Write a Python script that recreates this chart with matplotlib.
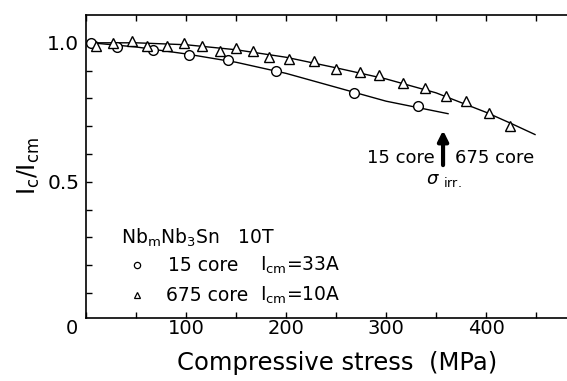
import matplotlib
matplotlib.use('Agg')
import matplotlib.pyplot as plt
import numpy as np

plt.rcParams['font.family'] = ['DejaVu Sans']

# 15 core data (circles)
core15_x = [5, 31, 67, 103, 142, 190, 268, 332]
core15_y = [1.0, 0.984, 0.973, 0.955, 0.937, 0.897, 0.821, 0.771]
# fitted line
core15_fit_x = [5, 50, 100, 150, 200, 250, 300, 362]
core15_fit_y = [1.0, 0.985, 0.96, 0.93, 0.89, 0.84, 0.79, 0.745]

# 675 core data (triangles)
core675_x = [10, 27, 46, 61, 81, 98, 116, 134, 150, 167, 183, 203, 228, 250,
             274, 293, 317, 339, 360, 380, 403, 424]
core675_y = [0.99, 1.0, 1.005, 0.99, 0.99, 1.0, 0.99, 0.97, 0.98, 0.97, 0.95,
             0.943, 0.934, 0.905, 0.894, 0.883, 0.854, 0.836, 0.807, 0.79,
             0.746, 0.699]
core675_fit_x = [5, 50, 100, 150, 200, 250, 300, 350, 400, 425, 449]
core675_fit_y = [1.0, 1.0, 0.993, 0.975, 0.948, 0.91, 0.87, 0.82, 0.75, 0.71, 0.67]

xticks = [0, 100, 200, 300, 400]

fig = plt.figure(figsize=(5.67, 3.81), dpi=100)
ax = fig.add_axes([0.152, 0.1654, 0.848, 0.7952])

ax.plot(core15_fit_x, core15_fit_y, color='black', lw=1.0)
ax.plot(core675_fit_x, core675_fit_y, color='black', lw=1.0)
ax.plot(core15_x, core15_y, 'o', ms=7, mfc='white', mec='black', mew=1.0)
ax.plot(core675_x, core675_y, '^', ms=7.5, mfc='white', mec='black', mew=1.0)

ax.set_xlim(0, 481)
ax.set_ylim(0.01, 1.10)
ax.spines['right'].set_visible(False)
for s in ['left', 'bottom', 'top']:
    ax.spines[s].set_linewidth(1.2)

ax.set_xticks(xticks)
ax.set_xticklabels([''] + [str(v) for v in xticks[1:]])
ax.set_xticks(np.arange(50, 481, 100), minor=True)
ax.set_yticks([0.5, 1.0])
ax.set_yticklabels(['0.5', '1.0'])
ax.set_yticks([0.1, 0.2, 0.3, 0.4, 0.6, 0.7, 0.8, 0.9], minor=True)
ax.tick_params(which='both', direction='in', length=4, width=1.0,
               top=True, right=False)
ax.tick_params(axis='y', pad=5, labelsize=14.5)
ax.tick_params(axis='x', pad=1, labelsize=14)
ax.annotate('0', xy=(-14, 0), xycoords=('data', 'axes fraction'),
            xytext=(0, -1), textcoords='offset points',
            ha='center', va='top', fontsize=14, annotation_clip=False)

ax.set_xlabel('Compressive stress  (MPa)', fontsize=17.5)
ax.xaxis.label.set_va('center')
ax.xaxis.set_label_coords(0.522, -0.149)
ax.set_ylabel(r'I$_\mathrm{c}$/I$_\mathrm{cm}$', fontsize=17, labelpad=4)

# annotation of irreversible stress (double-shaft arrow)
ax.annotate('', xy=(357, 0.685), xytext=(357, 0.56),
            arrowprops=dict(arrowstyle='-|>,head_width=0.3,head_length=0.6',
                            color='black', lw=3.0, shrinkA=0, shrinkB=0))
ax.plot([357, 357], [0.56, 0.645], color='white', lw=0.8)
ax.text(349, 0.587, '15 core', ha='right', va='center', fontsize=13)
ax.text(369, 0.587, '675 core', ha='left', va='center', fontsize=13)
ax.text(358, 0.505, r'$\sigma$ $_\mathrm{irr.}$', ha='center', va='center',
        fontsize=13)

# legend block
ax.text(35, 0.30, r'Nb$_\mathrm{m}$Nb$_\mathrm{3}$Sn   10T',
        ha='left', va='center', fontsize=13.5)
ax.plot([51], [0.2], 'o', ms=4.5, mfc='white', mec='black', mew=0.9)
ax.plot([51], [0.092], '^', ms=4.5, mfc='white', mec='black', mew=0.9)
ax.text(82, 0.2, '15 core', ha='left', va='center', fontsize=13.5)
ax.text(80, 0.092, '675 core', ha='left', va='center', fontsize=13.5)
ax.text(174, 0.2, r'I$_\mathrm{cm}$=33A', ha='left', va='center', fontsize=13.5)
ax.text(174, 0.092, r'I$_\mathrm{cm}$=10A', ha='left', va='center', fontsize=13.5)

fig.savefig('out.png', dpi=100)
